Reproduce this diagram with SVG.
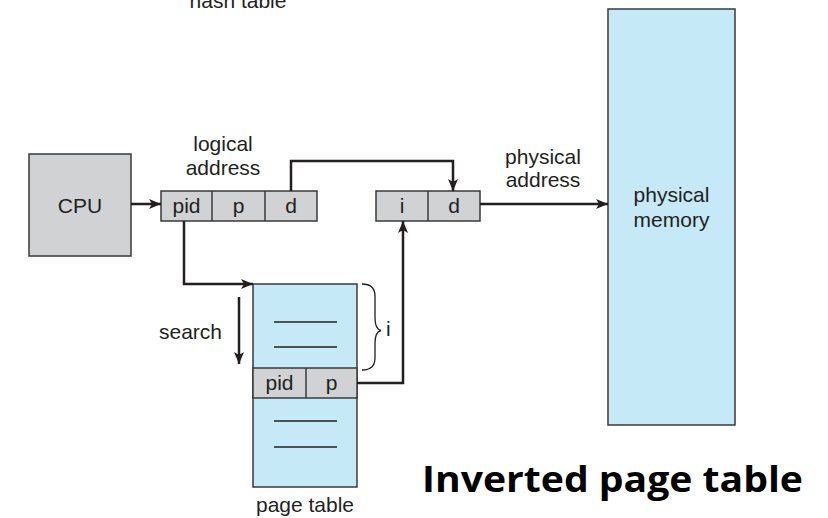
<svg xmlns="http://www.w3.org/2000/svg" width="828" height="518" viewBox="0 0 828 518">
  <style>
    .lbl { font-family: "Liberation Sans", Arial, sans-serif; font-size: 21px; fill: #231f20; }
    .mid { text-anchor: middle; }
    .gray { fill: #d1d2d4; stroke: #3a3a3a; stroke-width: 1.5; }
    .blue { fill: #c6e9f8; stroke: #3a3a3a; stroke-width: 1.5; }
    .div { stroke: #3a3a3a; stroke-width: 1.5; fill: none; }
    .rule { stroke: #231f20; stroke-width: 1.3; }
    .conn { stroke: #231f20; stroke-width: 2.5; fill: none; }
    .title { font-family: "Open Sans", "Noto Sans", sans-serif; font-weight: bold; font-size: 36px; fill: #000; }
  </style>
  <defs>
    <marker id="arrow" viewBox="0 0 12 10" refX="12" refY="5" markerWidth="12" markerHeight="10" markerUnits="userSpaceOnUse" orient="auto">
      <path d="M0,0 L12,5 L0,10 L3,5 Z" fill="#231f20"/>
    </marker>
  </defs>

  <rect width="828" height="518" fill="#ffffff"/>

  <text class="lbl mid" x="238" y="8">hash table</text>

  <g id="cpu">
    <rect class="gray" x="29" y="154" width="102" height="102"/>
    <text class="lbl mid" x="80" y="213">CPU</text>
  </g>

  <g id="logical-address">
    <text class="lbl mid" x="223" y="151">logical</text>
    <text class="lbl mid" x="223" y="175">address</text>
    <rect class="gray" x="161" y="191" width="156" height="30"/>
    <line class="div" x1="212" y1="191" x2="212" y2="221"/>
    <line class="div" x1="265" y1="191" x2="265" y2="221"/>
    <text class="lbl mid" x="186.5" y="213">pid</text>
    <text class="lbl mid" x="238.5" y="213">p</text>
    <text class="lbl mid" x="291" y="213">d</text>
  </g>

  <g id="physical-address">
    <text class="lbl mid" x="543" y="164">physical</text>
    <text class="lbl mid" x="543" y="187">address</text>
    <rect class="gray" x="376" y="191" width="104" height="30"/>
    <line class="div" x1="428" y1="191" x2="428" y2="221"/>
    <text class="lbl mid" x="402" y="213">i</text>
    <text class="lbl mid" x="454" y="213">d</text>
  </g>

  <g id="physical-memory">
    <rect class="blue" x="608" y="9" width="127" height="416"/>
    <text class="lbl mid" x="671.5" y="202">physical</text>
    <text class="lbl mid" x="671.5" y="227">memory</text>
  </g>

  <g id="page-table">
    <rect class="blue" x="253" y="284" width="104" height="203"/>
    <line class="rule" x1="274" y1="322" x2="337" y2="322"/>
    <line class="rule" x1="274" y1="347" x2="337" y2="347"/>
    <rect class="gray" x="253" y="368" width="104" height="30"/>
    <line class="div" x1="306" y1="368" x2="306" y2="398"/>
    <text class="lbl mid" x="279.5" y="390">pid</text>
    <text class="lbl mid" x="331.5" y="390">p</text>
    <line class="rule" x1="274" y1="421" x2="337" y2="421"/>
    <line class="rule" x1="274" y1="447" x2="337" y2="447"/>
    <text class="lbl mid" x="305" y="512">page table</text>
  </g>

  <g id="search">
    <text class="lbl" x="159" y="339">search</text>
    <line class="conn" x1="239" y1="297" x2="239" y2="364" marker-end="url(#arrow)"/>
  </g>

  <g id="index-brace">
    <path d="M362,284 Q375,284 375,296 L375,318 Q375,329 381,330.5 Q375,332 375,343 L375,358 Q375,370 362,370" fill="none" stroke="#231f20" stroke-width="1.3"/>
    <text class="lbl" x="386" y="336">i</text>
  </g>

  <g id="connectors">
    <line class="conn" x1="131" y1="204" x2="161" y2="204" marker-end="url(#arrow)"/>
    <polyline class="conn" points="184,221 184,284 253,284" marker-end="url(#arrow)"/>
    <polyline class="conn" points="291,191 291,161 453,161 453,191" marker-end="url(#arrow)"/>
    <line class="conn" x1="480" y1="204" x2="608" y2="204" marker-end="url(#arrow)"/>
    <polyline class="conn" points="357,383 403,383 403,221" marker-end="url(#arrow)"/>
  </g>

  <text class="title" x="422" y="492" textLength="381" lengthAdjust="spacingAndGlyphs">Inverted page table</text>
</svg>
